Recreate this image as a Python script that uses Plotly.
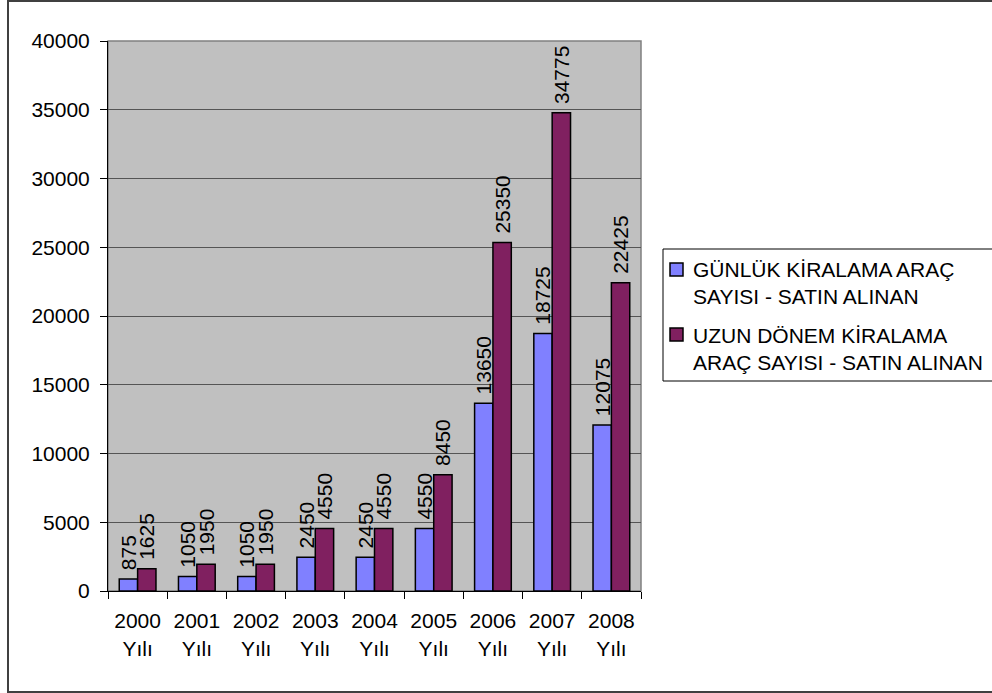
import plotly.graph_objects as go

# Yearly vehicle purchase counts
years = ["2000", "2001", "2002", "2003", "2004", "2005", "2006", "2007", "2008"]
year_labels = [f"{y}<br>Yılı" for y in years]
daily_rental = [875, 1050, 1050, 2450, 2450, 4550, 13650, 18725, 12075]
long_term = [1625, 1950, 1950, 4550, 4550, 8450, 25350, 34775, 22425]

series_names = [
    "GÜNLÜK KİRALAMA ARAÇ<br>SAYISI - SATIN ALINAN",
    "UZUN DÖNEM KİRALAMA<br>ARAÇ SAYISI - SATIN ALINAN",
]
series_colors = ["#8080FF", "#802060"]

W, H = 992, 693
L, R, T, B = 108, 351, 41, 102
FONT = "Liberation Sans, Arial, sans-serif"

fig = go.Figure()
for name, vals, col in zip(series_names, [daily_rental, long_term], series_colors):
    fig.add_trace(go.Bar(
        x=year_labels, y=vals, name=name, showlegend=False,
        marker=dict(color=col, line=dict(color="black", width=1.5)),
        # a leading no-break space keeps the rotated label off the bar top
        text=["\u00a0" + str(v) for v in vals], textposition="outside", textangle=-90,
        textfont=dict(family=FONT, size=21, color="black"),
        constraintext="none", cliponaxis=False,
    ))

pw = W - L - R
ph = H - T - B


def px_x(p):
    return (p - L) / pw


def px_y(p):
    return (H - B - p) / ph


shapes = [
    # plot-area frame
    dict(type="rect", xref="paper", yref="paper", x0=0, x1=1, y0=0, y1=1,
         line=dict(color="#808080", width=1.5), layer="below"),
    # chart-area frame
    dict(type="rect", xref="paper", yref="paper",
         x0=px_x(8), x1=px_x(1000), y0=px_y(692), y1=px_y(1),
         line=dict(color="#404040", width=2)),
    # legend box
    dict(type="rect", xref="paper", yref="paper",
         x0=px_x(663), x1=px_x(1000), y0=px_y(381), y1=px_y(249),
         line=dict(color="black", width=1), fillcolor="white"),
]
annotations = []

# legend entries: colour swatch + two-line label
legend_rows = [(263, 282.5), (328, 348.5)]
for (sw_top, txt_mid), name, col in zip(legend_rows, series_names, series_colors):
    shapes.append(dict(
        type="rect", xref="paper", yref="paper",
        x0=px_x(670), x1=px_x(683), y0=px_y(sw_top + 13), y1=px_y(sw_top),
        line=dict(color="black", width=1.5), fillcolor=col,
    ))
    annotations.append(dict(
        xref="paper", yref="paper", x=px_x(691), y=px_y(txt_mid),
        xanchor="left", yanchor="middle", align="left", showarrow=False,
        text=name, font=dict(family=FONT, size=21, color="black"),
    ))

fig.update_layout(
    width=W, height=H,
    margin=dict(l=L, r=R, t=T, b=B, pad=0, autoexpand=False),
    paper_bgcolor="white", plot_bgcolor="#C0C0C0",
    barmode="group", bargap=0.38, bargroupgap=0,
    font=dict(family=FONT, size=21, color="black"),
    showlegend=False,
    xaxis=dict(
        showgrid=False, showline=True, linecolor="black", linewidth=1,
        ticks="outside", ticklen=7, tickcolor="black", tickson="boundaries",
        tickfont=dict(family=FONT, size=21, color="black"),
        ticklabelstandoff=11,
    ),
    yaxis=dict(
        range=[0, 40000], dtick=5000, tickformat="d",
        showgrid=True, gridcolor="#555555", gridwidth=1,
        showline=True, linecolor="black", linewidth=1, zeroline=False,
        ticks="outside", ticklen=7, tickcolor="black",
        tickfont=dict(family=FONT, size=21, color="black"),
        ticklabelstandoff=6,
    ),
    shapes=shapes,
    annotations=annotations,
)

fig.write_html("out.html")
